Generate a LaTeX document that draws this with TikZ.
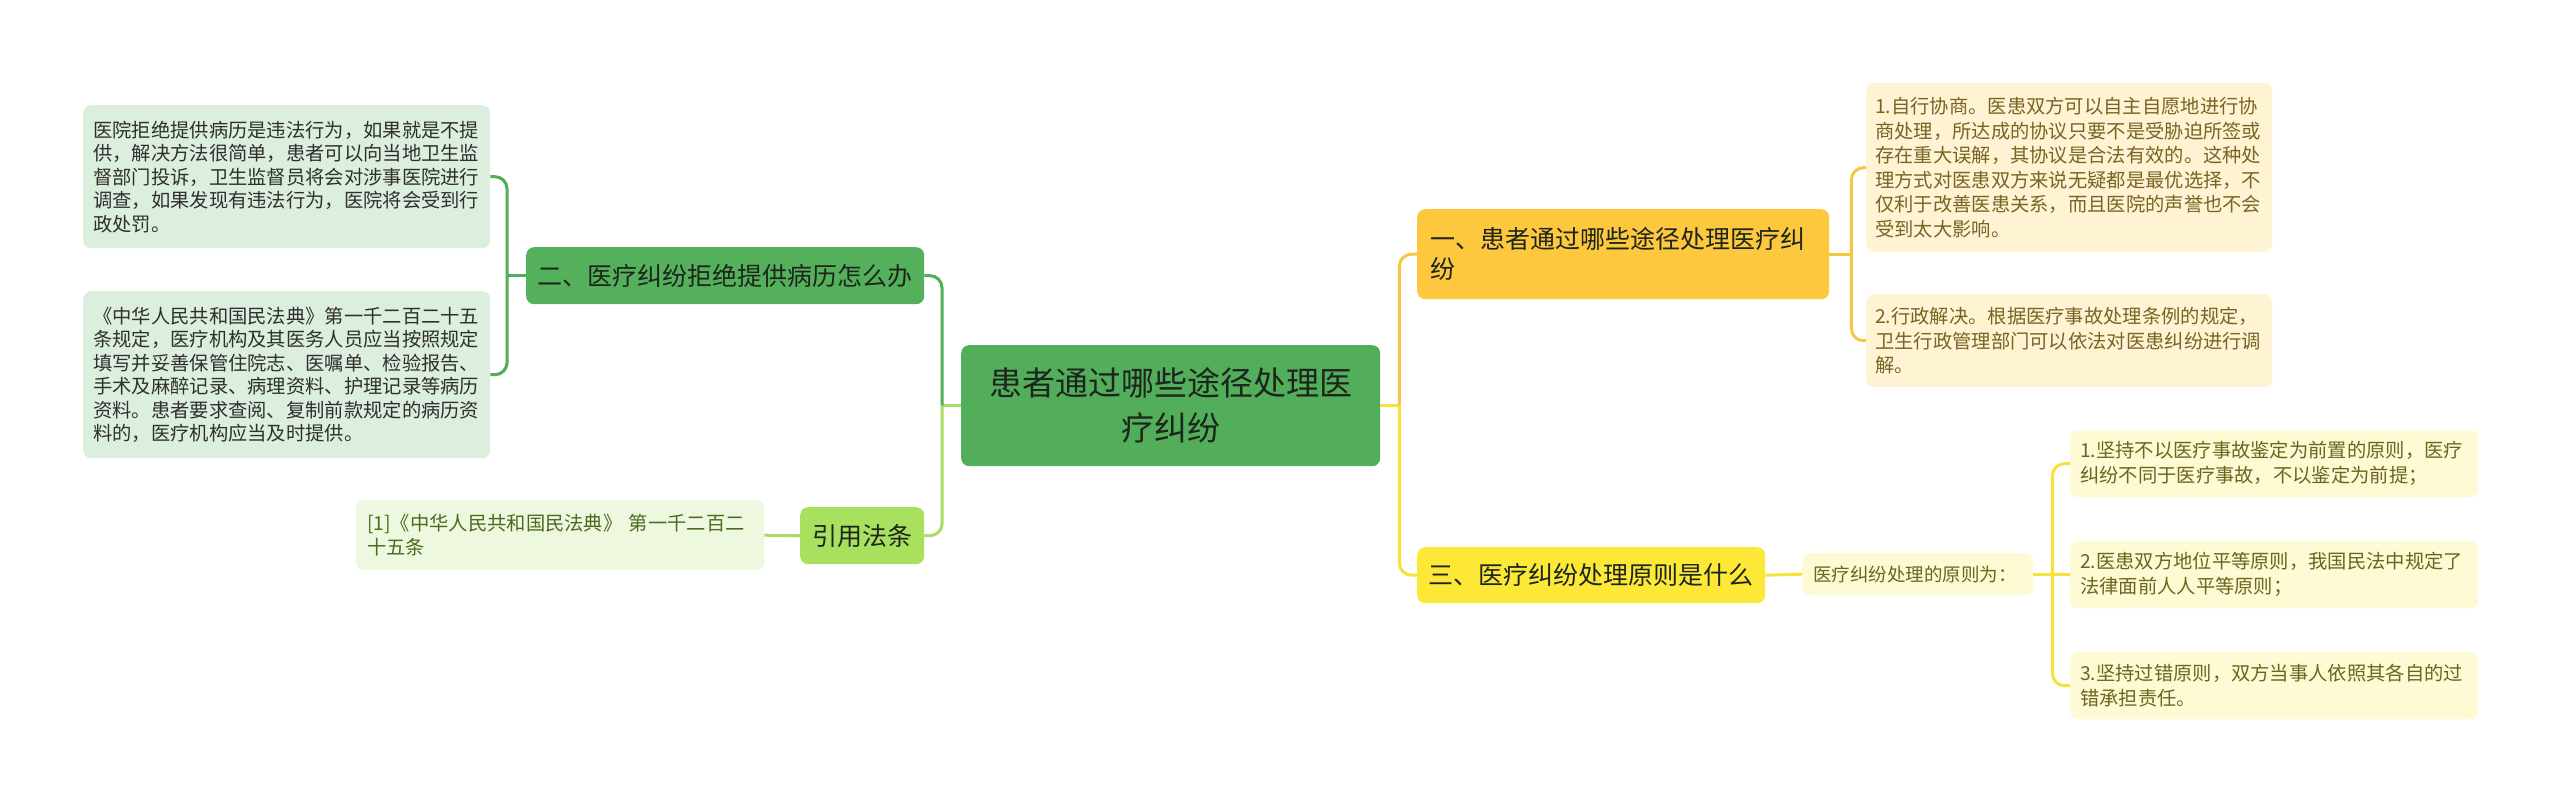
\documentclass[tikz,border=0pt]{standalone}
\usepackage{fontspec}
\setmainfont{Noto Sans CJK SC}
\definecolor{cMain}{HTML}{52AE5A}
\definecolor{cNodeG}{HTML}{55B05C}
\definecolor{cNodeLG}{HTML}{A9E05E}
\definecolor{cLeafG}{HTML}{DCEEDD}
\definecolor{cRefLeaf}{HTML}{EEF8DE}
\definecolor{cNodeGold}{HTML}{FDC83D}
\definecolor{cNodeYel}{HTML}{FDE838}
\definecolor{cCream}{HTML}{FEF3D2}
\definecolor{cLemon}{HTML}{FEFAD3}
\definecolor{lnDark}{HTML}{4FAE57}
\definecolor{lnLight}{HTML}{A9DD62}
\definecolor{lnGold}{HTML}{F7C744}
\definecolor{lnYel}{HTML}{F7E23A}
\definecolor{tDark}{HTML}{1C261C}
\definecolor{tGray}{HTML}{2F2F2F}
\definecolor{tRef}{HTML}{4A6A20}
\definecolor{tBrown}{HTML}{7A6425}
\definecolor{tOlive}{HTML}{6A661F}
\begin{document}
\begin{tikzpicture}[x=1pt,y=-1pt,
  box/.style={rounded corners=8pt, inner xsep=10pt, inner ysep=0pt, anchor=north west, align=left},
  leafG/.style={box, fill=cLeafG, text=tGray, font=\fontsize{19.3}{23.5}\selectfont},
  refleaf/.style={box, fill=cRefLeaf, text=tRef, font=\fontsize{19.3}{24}\selectfont},
  creamleaf/.style={box, fill=cCream, text=tBrown, font=\fontsize{19.3}{24.5}\selectfont},
  lemonleaf/.style={box, fill=cLemon, text=tOlive, font=\fontsize{19.3}{25}\selectfont},
  topic/.style={box, text=tDark, font=\fontsize{25}{30}\selectfont},
  conn/.style={line width=3pt},
  rc/.style={rounded corners=12pt}
]
\fill[white] (0,0) rectangle (2560,803);
\useasboundingbox (0,0) rectangle (2560,803);

% central
\node[box, fill=cMain, text=tDark, align=center, inner xsep=0pt, text width=419, minimum height=121,
  font=\fontsize{33}{45}\selectfont] (c) at (961,345) {患者通过哪些途径处理医\\疗纠纷};

% left side
\node[topic, fill=cNodeG, inner xsep=11pt, text width=376, minimum height=57] (n2) at (526,247) {二、医疗纠纷拒绝提供病历怎么办};
\node[leafG, text width=387, minimum height=143] (l1) at (83,105) {医院拒绝提供病历是违法行为，如果就是不提\\供，解决方法很简单，患者可以向当地卫生监\\督部门投诉，卫生监督员将会对涉事医院进行\\调查，如果发现有违法行为，医院将会受到行\\政处罚。};
\node[leafG, text width=387, minimum height=167] (l2) at (83,291) {《中华人民共和国民法典》第一千二百二十五\\条规定，医疗机构及其医务人员应当按照规定\\填写并妥善保管住院志、医嘱单、检验报告、\\手术及麻醉记录、病理资料、护理记录等病历\\资料。患者要求查阅、复制前款规定的病历资\\料的，医疗机构应当及时提供。};
\node[topic, fill=cNodeLG, align=center, inner xsep=0pt, text width=124, minimum height=57] (b) at (800,507) {引用法条};
\node[refleaf, inner xsep=11pt, text width=386, minimum height=70] (r0) at (356,500) {[1]《中华人民共和国民法典》 第一千二百二\\十五条};

% right side
\node[topic, fill=cNodeGold, inner xsep=13pt, text width=386, minimum height=90] (n1) at (1417,209) {一、患者通过哪些途径处理医疗纠\\纷};
\node[topic, fill=cNodeYel, inner xsep=11pt, text width=326, minimum height=56] (n3) at (1417,547) {三、医疗纠纷处理原则是什么};
\node[creamleaf, inner xsep=9pt, text width=388, minimum height=169] (rl1) at (1866,83) {1.自行协商。医患双方可以自主自愿地进行协\\商处理，所达成的协议只要不是受胁迫所签或\\存在重大误解，其协议是合法有效的。这种处\\理方式对医患双方来说无疑都是最优选择，不\\仅利于改善医患关系，而且医院的声誉也不会\\受到太大影响。};
\node[creamleaf, inner xsep=9pt, text width=388, minimum height=93] (rl2) at (1866,294) {2.行政解决。根据医疗事故处理条例的规定，\\卫生行政管理部门可以依法对医患纠纷进行调\\解。};
\node[lemonleaf, inner xsep=11pt, text width=209, minimum height=42, font=\fontsize{18.5}{22}\selectfont] (p0) at (1802,553) {医疗纠纷处理的原则为：};
\node[lemonleaf, text width=388, minimum height=67] (pa) at (2070,430) {1.坚持不以医疗事故鉴定为前置的原则，医疗\\纠纷不同于医疗事故，不以鉴定为前提；};
\node[lemonleaf, text width=388, minimum height=67] (pb) at (2070,541) {2.医患双方地位平等原则，我国民法中规定了\\法律面前人人平等原则；};
\node[lemonleaf, text width=388, minimum height=67] (pc) at (2070,652) {3.坚持过错原则，双方当事人依照其各自的过\\错承担责任。};

% junctions
\coordinate (jL) at ([xshift=-19pt]c.west);
\coordinate (j2) at ([xshift=-19pt]n2.west);
\coordinate (jR) at ([xshift=19pt]c.east);
\coordinate (j1) at ([xshift=22pt]n1.east);
\coordinate (j3) at ([xshift=19pt]p0.east);

% left connectors
\draw[conn, lnLight] (c.west) -- (jL);
\draw[conn, lnDark, rc] (jL) |- (n2.east);
\draw[conn, lnLight, rc] (jL) |- (b.east);
\draw[conn, lnDark] (n2.west) -- (j2);
\draw[conn, lnDark, rc] (j2) |- (l1.east);
\draw[conn, lnDark, rc] (j2) |- (l2.east);
\draw[conn, lnLight] (b.west) -- (r0.east);

% right connectors
\draw[conn, lnYel] (c.east) -- (jR);
\draw[conn, lnGold, rc] (jR) |- (n1.west);
\draw[conn, lnYel, rc] (jR) |- (n3.west);
\draw[conn, lnGold] (n1.east) -- (j1);
\draw[conn, lnGold, rc] (j1) |- (rl1.west);
\draw[conn, lnGold, rc] (j1) |- (rl2.west);
\draw[conn, lnYel] (n3.east) -- (p0.west);
\draw[conn, lnYel] (p0.east) -- (j3);
\draw[conn, lnYel, rc] (j3) |- (pa.west);
\draw[conn, lnYel] (j3) -- (pb.west);
\draw[conn, lnYel, rc] (j3) |- (pc.west);
\end{tikzpicture}
\end{document}
